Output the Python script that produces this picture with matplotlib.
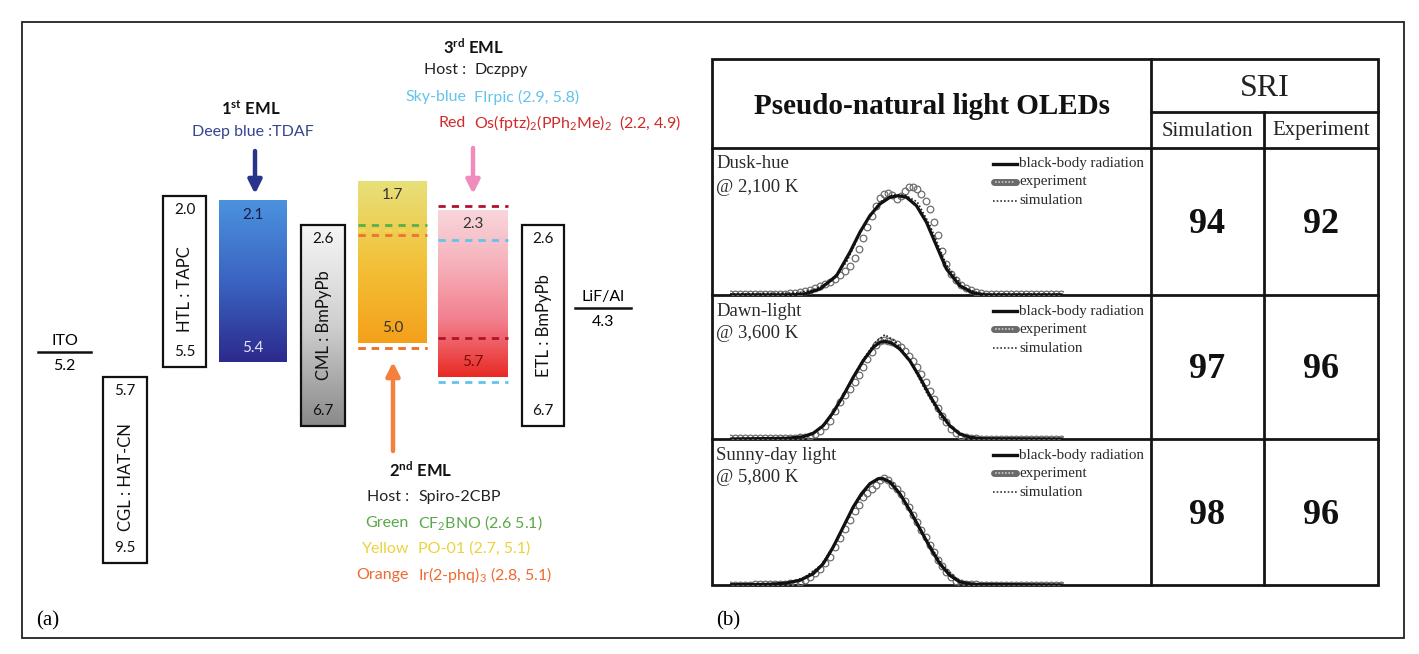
import numpy as np
import matplotlib
matplotlib.use("Agg")
import matplotlib.pyplot as plt
from matplotlib.patches import Rectangle
from matplotlib.colors import LinearSegmentedColormap

plt.rcParams['mathtext.fontset'] = 'custom'
plt.rcParams['mathtext.rm'] = 'Lato'
plt.rcParams['mathtext.it'] = 'Lato:italic'
plt.rcParams['mathtext.bf'] = 'Lato:bold'

# ---------------- data: (a) energy diagram ----------------
box_names = ["CGL : HAT-CN", "HTL : TAPC", "1st EML", "CML : BmPyPb", "2nd EML", "3rd EML", "ETL : BmPyPb"]
box_lumo = [5.7, 2.0, 2.1, 2.6, 1.7, 2.3, 2.6]
box_homo = [9.5, 5.5, 5.4, 6.7, 5.0, 5.7, 6.7]
electrode_names = ["ITO", "LiF/Al"]
electrode_wf = [5.2, 4.3]
dopant_names = ["Green", "Yellow", "Orange", "Sky-blue", "Red"]
dopant_compounds = ["CF$_2$BNO", "PO-01", "Ir(2-phq)$_3$", "FIrpic", "Os(fptz)$_2$(PPh$_2$Me)$_2$"]
dopant_lumo = [2.6, 2.7, 2.8, 2.9, 2.2]
dopant_homo = [5.1, 5.1, 5.1, 5.8, 4.9]
hosts = ["Spiro-2CBP", "Dczppy"]
deep_blue = "TDAF"

# ---------------- data: (b) spectra + SRI table ----------------
row_names = ["Dusk-hue", "Dawn-light", "Sunny-day light"]
row_cct = ["@ 2,100 K", "@ 3,600 K", "@ 5,800 K"]
sri_sim = [94, 97, 98]
sri_exp = [92, 96, 96]

bb1_wl = [380, 448, 468, 488, 508, 524, 536, 548, 560, 572, 582, 592, 604, 616, 628, 640, 656, 672, 688, 780]
bb1 = [0, 0, 0.007, 0.06, 0.193, 0.427, 0.627, 0.793, 0.91, 0.977, 0.993, 0.977, 0.893, 0.727, 0.493, 0.26, 0.093, 0.02, 0, 0]
sim1_wl = [380, 460, 480, 500, 520, 540, 560, 575, 590, 605, 620, 640, 660, 680, 700, 780]
sim1 = [0.01, 0.02, 0.05, 0.13, 0.33, 0.68, 0.93, 1.0, 1.0, 0.93, 0.7, 0.3, 0.08, 0.015, 0.01, 0.01]

bb2_wl = [380, 448, 468, 480, 492, 504, 516, 528, 540, 552, 560, 566, 574, 584, 596, 608, 620, 632, 644, 656, 668, 684, 780]
bb2 = [0, 0.007, 0.023, 0.057, 0.133, 0.267, 0.433, 0.617, 0.783, 0.917, 0.967, 0.977, 0.96, 0.90, 0.783, 0.617,
       0.433, 0.267, 0.133, 0.05, 0.017, 0.003, 0]
sim2_wl = [380, 460, 480, 500, 520, 540, 555, 566, 578, 595, 615, 635, 655, 675, 780]
sim2 = [0, 0.01, 0.06, 0.2, 0.5, 0.8, 0.97, 1.043, 0.98, 0.8, 0.48, 0.2, 0.05, 0.01, 0]

bb3_wl = [380, 428, 448, 464, 480, 492, 504, 516, 528, 538, 548, 558, 564, 572, 584, 596, 608, 620, 632, 644, 656, 672, 780]
bb3 = [0.003, 0.007, 0.02, 0.047, 0.113, 0.213, 0.38, 0.58, 0.78, 0.913, 1.013, 1.063, 1.063, 1.03, 0.913, 0.747,
       0.563, 0.38, 0.213, 0.097, 0.03, 0.007, 0]
sim3_wl = [380, 450, 470, 490, 510, 530, 550, 562, 575, 595, 615, 635, 655, 680, 780]
sim3 = [0, 0.02, 0.08, 0.2, 0.47, 0.8, 1.02, 1.07, 1.03, 0.77, 0.47, 0.2, 0.04, 0.005, 0]

# experiment samples (wavelengths shared by the three measurements)
exp_wl = [380, 386, 392, 398, 404, 410, 416, 422, 428, 434, 440, 446,
          452, 458, 464, 470, 476, 482, 488, 494, 500, 506, 512, 518, 524,
          530, 535, 540, 545, 550, 555, 560, 565, 570, 575, 580, 585, 590, 595, 600, 605, 610, 615, 620, 625,
          630, 635, 640,
          646, 652, 658, 664, 670, 676, 682, 688,
          694, 700, 706, 712, 718, 724, 730, 736, 742, 748, 754, 760, 766, 772, 778]
exp1 = [0.01, 0.01, 0.01, 0.01, 0.01, 0.01, 0.01, 0.01, 0.01, 0.01, 0.01, 0.01,
        0.015, 0.02, 0.025, 0.035, 0.05, 0.065, 0.087, 0.105, 0.125, 0.16, 0.195, 0.235, 0.293,
        0.37, 0.46, 0.57, 0.68, 0.793, 0.89, 0.97, 1.01, 1.015, 0.995, 0.96, 0.985, 1.04, 1.075, 1.08, 1.06,
        1.01, 0.94, 0.86, 0.73, 0.6, 0.44, 0.31,
        0.21, 0.15, 0.1, 0.07, 0.045, 0.027, 0.017, 0.01,
        0.01, 0.01, 0.01, 0.01, 0.01, 0.01, 0.01, 0.01, 0.01, 0.01, 0.01, 0.01, 0.01, 0.01, 0.01]
exp2 = [0.007, 0.007, 0.007, 0.007, 0.007, 0.007, 0.007, 0.007, 0.007, 0.007, 0.007, 0.007,
        0.01, 0.012, 0.016, 0.021, 0.033, 0.05, 0.083, 0.13, 0.183, 0.28, 0.37, 0.44, 0.50,
        0.575, 0.64, 0.717, 0.8, 0.87, 0.94, 0.977, 0.99, 0.985, 0.97, 0.95, 0.92, 0.883, 0.835, 0.783, 0.72,
        0.65, 0.57, 0.485, 0.4, 0.315, 0.235, 0.167,
        0.1, 0.06, 0.033, 0.018, 0.009, 0.006, 0.004, 0.003,
        0.003, 0.003, 0.003, 0.003, 0.003, 0.003, 0.003, 0.003, 0.003, 0.003, 0.003, 0.003, 0.003, 0.003, 0.003]
exp3 = [0.003, 0.004, 0.004, 0.005, 0.005, 0.006, 0.006, 0.007, 0.007, 0.008, 0.01, 0.013,
        0.017, 0.023, 0.035, 0.055, 0.08, 0.12, 0.163, 0.22, 0.28, 0.38, 0.47, 0.56, 0.647,
        0.745, 0.8, 0.88, 0.925, 0.96, 1.0, 1.055, 1.075, 1.055, 1.005, 0.96, 0.91, 0.845, 0.78, 0.705, 0.63,
        0.555, 0.48, 0.405, 0.33, 0.255, 0.19, 0.135,
        0.08, 0.045, 0.022, 0.012, 0.008, 0.006, 0.005, 0.004,
        0.003, 0.003, 0.003, 0.003, 0.003, 0.003, 0.003, 0.003, 0.003, 0.003, 0.003, 0.003, 0.003, 0.003, 0.003]

spectra = [(bb1_wl, bb1, exp1, sim1_wl, sim1),
           (bb2_wl, bb2, exp2, sim2_wl, sim2),
           (bb3_wl, bb3, exp3, sim3_wl, sim3)]

# ---------------- figure ----------------
W, H = 1419, 654
fig = plt.figure(figsize=(W / 100, H / 100), dpi=100)
fig.patch.set_facecolor('white')

bg = fig.add_axes([0, 0, 1, 1])
bg.set_xlim(0, W)
bg.set_ylim(H, 0)
bg.axis('off')

SANS = 'Lato'
SERIF = 'Liberation Serif'

# outer frame
bg.add_patch(Rectangle((22, 22), 1382, 616, fill=False, lw=1.3, ec='#222'))
bg.text(36, 621, "(a)", fontsize=15, family=SERIF, va='center', ha='left')
bg.text(716, 621, "(b)", fontsize=15, family=SERIF, va='center', ha='left')

# ---------------- (a) energy axes ----------------
PX0, E0, PXE = 196.0, 2.0, 48.9
ax = fig.add_axes([0, 0, 1, 1])
ax.patch.set_alpha(0)
ax.axis('off')

box_x = [(103, 147), (163, 206), (219, 287), (301, 345), (358, 427), (438, 508), (522, 564)]
box_fill = [None, None,
            ['#4b92de', '#3b64c2', '#2c2a8c'],
            ['#f6f6f6', '#cfcfcf', '#8a8a8a'],
            ['#e7e07a', '#f2c23a', '#f5a01a'],
            ['#f9d6dc', '#f6b0ba', '#f27e8c', '#e82a24'],
            None]
top_txt_col = ['#111', '#111', '#1a1a4a', '#111', '#333', '#333', '#111']
bot_txt_col = ['#111', '#111', '#e8e8f8', '#111', '#333', '#7a0a0a', '#111']
grad = np.linspace(0, 1, 256).reshape(-1, 1)

for i, (name, lu, ho) in enumerate(zip(box_names, box_lumo, box_homo)):
    x0, x1 = box_x[i]
    if box_fill[i] is not None:
        cm = LinearSegmentedColormap.from_list(f"g{i}", box_fill[i])
        ax.imshow(grad, cmap=cm, extent=(x0, x1, ho, lu), origin='upper', aspect='auto',
                  zorder=1, interpolation='bilinear')
    if box_fill[i] is None or i == 3:
        ax.add_patch(Rectangle((x0, lu), x1 - x0, ho - lu, fill=(box_fill[i] is None), fc='white',
                               ec='#111', lw=1.6, zorder=2))
    xc = (x0 + x1) / 2
    ax.text(xc, lu + 0.28, f"{lu:.1f}", ha='center', va='center', fontsize=11, family=SANS,
            color=top_txt_col[i], zorder=5)
    ax.text(xc, ho - 0.3, f"{ho:.1f}", ha='center', va='center', fontsize=11, family=SANS,
            color=bot_txt_col[i], zorder=5)
    if ":" in name:
        ax.text(xc + 1, (lu + ho) / 2 + (0.15 if i < 2 else 0.0), name, rotation=90, ha='center',
                va='center', fontsize=12, family=SANS, color='#111', zorder=5)

# dopant dashed levels
dop_col = ['#58b04a', '#f2d84a', '#f07030', '#62c4ea', '#b3122e']
dop_box = [4, 4, 4, 5, 5]
dash = (0, (2.6, 2.2))
for j in range(len(dopant_names)):
    x0, x1 = box_x[dop_box[j]]
    for e in (dopant_lumo[j], dopant_homo[j]):
        ax.plot([x0, x1], [e, e], color=dop_col[j], lw=2.0, ls=dash, zorder=4)

# electrodes
el_x = [(38, 91), (575, 631)]
for name, wf, (x0, x1) in zip(electrode_names, electrode_wf, el_x):
    ax.plot([x0, x1], [wf, wf], color='#111', lw=1.8, zorder=3)
    ax.text((x0 + x1) / 2, wf - 0.23, name, ha='center', va='center', fontsize=11.5, family=SANS)
    ax.text((x0 + x1) / 2, wf + 0.28, f"{wf:.1f}", ha='center', va='center', fontsize=11.5, family=SANS)

ax.set_xlim(0, W)
ax.set_ylim(E0 + (H - PX0) / PXE, E0 - PX0 / PXE)

# arrows (layout)
def arrow(x, y0, y1, col):
    bg.annotate("", xy=(x, y1), xytext=(x, y0),
                arrowprops=dict(arrowstyle='-|>', color=col, lw=3.2, mutation_scale=20,
                                shrinkA=0, shrinkB=0))

arrow(255, 151, 194, '#28358a')
arrow(473, 148, 194, '#f08cbc')
arrow(393, 451, 362, '#f5803e')

# EML annotations
bg.text(251, 109, r"$\mathbf{1^{st}}$ EML", ha='center', va='center', fontsize=12, family=SANS,
        fontweight='bold', color='#111')
bg.text(253, 132, f"Deep blue :{deep_blue}", ha='center', va='center', fontsize=11.5, family=SANS,
        color='#36458f')

bg.text(473, 47, r"$\mathbf{3^{rd}}$ EML", ha='center', va='center', fontsize=12, family=SANS,
        fontweight='bold', color='#111')
ys3 = [70, 97, 123]
names3 = ["Host :", dopant_names[3], dopant_names[4]]
comps3 = [hosts[1], f"{dopant_compounds[3]} ({dopant_lumo[3]:.1f}, {dopant_homo[3]:.1f})",
          f"{dopant_compounds[4]}  ({dopant_lumo[4]:.1f}, {dopant_homo[4]:.1f})"]
cols3 = ['#222', dop_col[3], '#d22a2a']
for y, n, c, col in zip(ys3, names3, comps3, cols3):
    bg.text(466, y, n, ha='right', va='center', fontsize=11.5, family=SANS, color=col)
    bg.text(474, y, c, ha='left', va='center', fontsize=11.5, family=SANS, color=col)

bg.text(421, 470, r"$\mathbf{2^{nd}}$ EML", ha='center', va='center', fontsize=12, family=SANS,
        fontweight='bold', color='#111')
ys2 = [497, 523, 549, 575]
names2 = ["Host :", dopant_names[0], dopant_names[1], dopant_names[2]]
seps = [" ", ", ", ", "]
comps2 = [hosts[0]] + [f"{dopant_compounds[k]} ({dopant_lumo[k]:.1f}{seps[k]}{dopant_homo[k]:.1f})"
                       for k in range(3)]
cols2 = ['#222', '#5aa84a', '#ecd23c', '#ee6a30']
for y, n, c, col in zip(ys2, names2, comps2, cols2):
    bg.text(409, y, n, ha='right', va='center', fontsize=11.5, family=SANS, color=col)
    bg.text(418, y, c, ha='left', va='center', fontsize=11.5, family=SANS, color=col)

# ---------------- (b) table ----------------
TL, TR, TT, TB = 712, 1378, 59, 585
VMID, VSUB, HSRI, HHEAD = 1151, 1264, 112, 148
row_top = [148, 295, 439]
row_bot = [295, 439, 585]
LC = '#151515'
LW = 2.0
bg.add_patch(Rectangle((TL, TT), TR - TL, TB - TT, fill=False, ec=LC, lw=LW))
bg.plot([VMID, VMID], [TT, TB], color=LC, lw=LW)
bg.plot([VSUB, VSUB], [HSRI, TB], color=LC, lw=LW)
bg.plot([VMID, TR], [HSRI, HSRI], color=LC, lw=LW)
bg.plot([TL, TR], [HHEAD, HHEAD], color=LC, lw=LW)
for yb in row_bot[:-1]:
    bg.plot([TL, TR], [yb, yb], color=LC, lw=LW)

bg.text((TL + VMID) / 2, 106, "Pseudo-natural light OLEDs", ha='center', va='center', fontsize=21,
        family=SERIF, fontweight='bold', color='#111')
bg.text((VMID + TR) / 2, 88, "SRI", ha='center', va='center', fontsize=23, family=SERIF, color='#222')
bg.text((VMID + VSUB) / 2, 131, "Simulation", ha='center', va='center', fontsize=15, family=SERIF, color='#222')
bg.text((VSUB + TR) / 2, 131, "Experiment", ha='center', va='center', fontsize=15, family=SERIF, color='#222')

for r in range(3):
    t, b = row_top[r], row_bot[r]
    yc = (t + b) / 2 + 3
    bg.text((VMID + VSUB) / 2, yc, f"{sri_sim[r]}", ha='center', va='center', fontsize=26,
            family=SERIF, fontweight='bold', color='#111')
    bg.text((VSUB + TR) / 2, yc, f"{sri_exp[r]}", ha='center', va='center', fontsize=26,
            family=SERIF, fontweight='bold', color='#111')
    bg.text(716, t + 16, row_names[r], ha='left', va='center', fontsize=13.5, family=SERIF, color='#2a2a2a')
    bg.text(716, t + 39, row_cct[r], ha='left', va='center', fontsize=13.5, family=SERIF, color='#2a2a2a')
    # legend
    ly = [t + 16, t + 34, t + 53]
    bg.plot([993, 1017], [ly[0], ly[0]], color='#111', lw=2.4)
    bg.plot([994, 1016], [ly[1], ly[1]], color='#6a6a6a', lw=5, solid_capstyle='round')
    bg.plot([995, 1015], [ly[1], ly[1]], color='#c8c8c8', lw=1.2, ls=(0, (1, 1)))
    bg.plot([993, 1017], [ly[2], ly[2]], color='#333', lw=1.2, ls=(0, (1, 1.2)))
    for yy, lab in zip(ly, ["black-body radiation", "experiment", "simulation"]):
        bg.text(1019, yy, lab, ha='left', va='center', fontsize=10.8, family=SERIF, color='#2a2a2a')

    # spectrum
    bw, bv, ev, sw, sv = spectra[r]
    sax = fig.add_axes([730 / W, 1 - b / H, (1063 - 730) / W, (b - t) / H])
    sax.patch.set_alpha(0)
    sax.axis('off')
    sax.plot(exp_wl, ev, ls='none', marker='o', ms=4.8, mfc='none', mec='#6e6e6e', mew=0.9, zorder=2)
    sax.plot(sw, sv, color='#222', lw=1.2, ls=(0, (1, 1.2)), zorder=3)
    sax.plot(bw, bv, color='#111', lw=2.3, zorder=4, solid_joinstyle='round')
    sax.set_xlim(380, 780)
    sax.set_ylim(0, (b - t) / 100)

fig.savefig("out.png", dpi=100, facecolor='white')
